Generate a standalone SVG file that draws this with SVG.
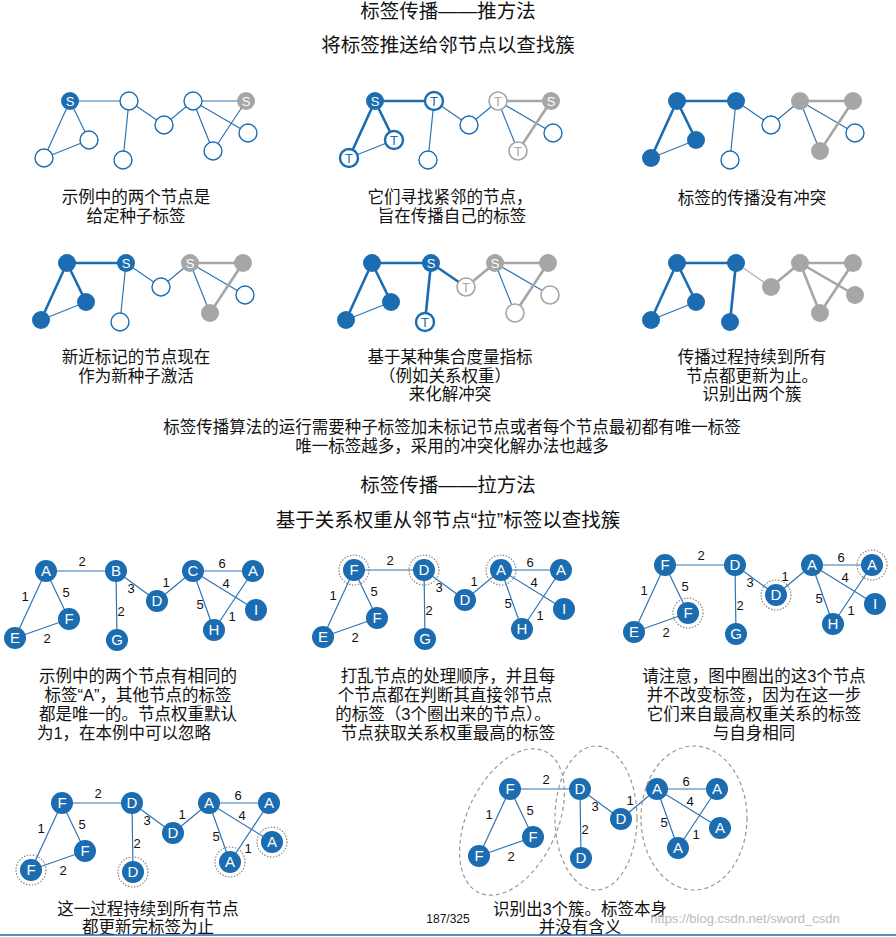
<svg xmlns="http://www.w3.org/2000/svg" xmlns:xlink="http://www.w3.org/1999/xlink" width="896" height="937" viewBox="0 0 896 937">
<style>
text{font-family:"Liberation Sans","Noto Sans CJK SC",sans-serif;fill:#111;text-anchor:middle}
.t{font-size:19.5px}.c{font-size:16.5px}
.e{stroke:#2e75b6;stroke-width:1.2;fill:none}
.eb{stroke:#1b6cb0;stroke-width:2.6;fill:none}
.eg{stroke:#a6a6a6;stroke-width:2.6;fill:none}
.eg1{stroke:#b0b0b0;stroke-width:1.2;fill:none}
.o{fill:#fff;stroke:#1b6cb0;stroke-width:1.4}
.ob{fill:#fff;stroke:#1b6cb0;stroke-width:2.4}
.og{fill:#fff;stroke:#a6a6a6;stroke-width:1.6}
.f{fill:#1b6cb0}.g{fill:#a6a6a6}
.nl{font-size:13px;fill:#fff}.nlb{font-size:13px;fill:#1b6cb0}.nlg{font-size:13px;fill:#a6a6a6}
.B{fill:#1b6cb0}.bl{font-size:15px;fill:#fff}
.w{font-size:13px}
.dot{fill:none;stroke:#888;stroke-width:1.2;stroke-dasharray:1.5 1.5}
.ell{fill:none;stroke:#999;stroke-width:1.2;stroke-dasharray:4 3}
</style>
<rect width="896" height="937" fill="#fff"/>
<text class="t" x="448" y="18">标签传播——推方法</text>
<text class="t" x="448" y="52">将标签推送给邻节点以查找簇</text>

<g id="push1">
<g class="connectors">
<path class="e" d="M70 101H129M129 101L164 125M164 125L193 101M193 101H246M193 101L248 133M193 101L213 151M246 101L213 151M129 101L123 160M70 101L89 140M70 101L44 158M89 140L44 158"/>
</g>
<circle class="f" cx="70" cy="101" r="9"/><text class="nl" x="70" y="106">S</text>
<circle class="o" cx="129" cy="101" r="9"/><circle class="o" cx="164" cy="125" r="9"/><circle class="o" cx="193" cy="101" r="9"/>
<circle class="g" cx="246" cy="101" r="9"/><text class="nl" x="246" y="106">S</text>
<circle class="o" cx="248" cy="133" r="9"/><circle class="o" cx="213" cy="151" r="9"/><circle class="o" cx="123" cy="160" r="9"/><circle class="o" cx="89" cy="140" r="9"/><circle class="o" cx="44" cy="158" r="9"/>
</g>
<g id="push2" transform="translate(305,0)">
<g class="connectors">
<path class="e" d="M129 101L164 125M164 125L193 101M193 101L248 133M193 101L213 151M129 101L123 160M89 140L44 158"/>
<path class="eb" d="M70 101H129M70 101L89 140M70 101L44 158"/>
<path class="eg" d="M193 101H246M246 101L213 151"/>
</g>
<circle class="f" cx="70" cy="101" r="9"/><text class="nl" x="70" y="106">S</text>
<circle class="ob" cx="129" cy="101" r="9"/><text class="nlb" x="129" y="106">T</text>
<circle class="o" cx="164" cy="125" r="9"/>
<circle class="og" cx="193" cy="101" r="9"/><text class="nlg" x="193" y="106">T</text>
<circle class="g" cx="246" cy="101" r="9"/><text class="nl" x="246" y="106">S</text>
<circle class="o" cx="248" cy="133" r="9"/>
<circle class="og" cx="213" cy="151" r="9"/><text class="nlg" x="213" y="156">T</text>
<circle class="o" cx="123" cy="160" r="9"/>
<circle class="ob" cx="89" cy="140" r="9"/><text class="nlb" x="89" y="145">T</text>
<circle class="ob" cx="44" cy="158" r="9"/><text class="nlb" x="44" y="163">T</text>
</g>
<g id="push3" transform="translate(607,0)">
<g class="connectors">
<path class="e" d="M129 101L164 125M164 125L193 101M193 101L248 133M193 101L213 151M129 101L123 160M89 140L44 158"/>
<path class="eb" d="M70 101H129M70 101L89 140M70 101L44 158"/>
<path class="eg" d="M193 101H246M246 101L213 151"/>
</g>
<circle class="f" cx="70" cy="101" r="9"/><circle class="f" cx="129" cy="101" r="9"/><circle class="o" cx="164" cy="125" r="9"/>
<circle class="g" cx="193" cy="101" r="9"/><circle class="g" cx="246" cy="101" r="9"/><circle class="o" cx="248" cy="133" r="9"/>
<circle class="g" cx="213" cy="151" r="9"/><circle class="o" cx="123" cy="160" r="9"/><circle class="f" cx="89" cy="140" r="9"/><circle class="f" cx="44" cy="158" r="9"/>
</g>
<g id="push4" transform="translate(-3,162)">
<g class="connectors">
<path class="e" d="M129 101L164 125M164 125L193 101M193 101L248 133M193 101L213 151M129 101L123 160M89 140L44 158"/>
<path class="eb" d="M70 101H129M70 101L89 140M70 101L44 158"/>
<path class="eg" d="M193 101H246M246 101L213 151"/>
</g>
<circle class="f" cx="70" cy="101" r="9"/><circle class="f" cx="129" cy="101" r="9"/><text class="nl" x="129" y="106">S</text><circle class="o" cx="164" cy="125" r="9"/>
<circle class="g" cx="193" cy="101" r="9"/><text class="nl" x="193" y="106">S</text><circle class="g" cx="246" cy="101" r="9"/><circle class="o" cx="248" cy="133" r="9"/>
<circle class="g" cx="213" cy="151" r="9"/><circle class="o" cx="123" cy="160" r="9"/><circle class="f" cx="89" cy="140" r="9"/><circle class="f" cx="44" cy="158" r="9"/>
</g>
<g id="push5" transform="translate(302,162)">
<g class="connectors">
<path class="e" d="M193 101L248 133M193 101L213 151M89 140L44 158"/>
<path class="eb" d="M70 101H129M70 101L89 140M70 101L44 158M129 101L164 125M129 101L123 160"/>
<path class="eg" d="M193 101H246M246 101L213 151M164 125L193 101"/>
</g>
<circle class="f" cx="70" cy="101" r="9"/><circle class="f" cx="129" cy="101" r="9"/><text class="nl" x="129" y="106">S</text>
<circle class="og" cx="164" cy="125" r="9"/><text class="nlg" x="164" y="130">T</text>
<circle class="g" cx="193" cy="101" r="9"/><text class="nl" x="193" y="106">S</text><circle class="g" cx="246" cy="101" r="9"/><circle class="og" cx="248" cy="133" r="9"/>
<circle class="og" cx="213" cy="151" r="9"/><circle class="ob" cx="123" cy="160" r="9"/><text class="nlb" x="123" y="165">T</text>
<circle class="f" cx="89" cy="140" r="9"/><circle class="f" cx="44" cy="158" r="9"/>
</g>
<g id="push6" transform="translate(607,162)">
<g class="connectors">
<path class="e" d="M89 140L44 158"/>
<path class="eb" d="M70 101H129M70 101L89 140M70 101L44 158M129 101L123 160"/>
<path class="eg" d="M193 101H246M246 101L213 151M164 125L193 101M193 101L213 151M193 101L248 133"/>
<path class="eg1" d="M129 101L164 125"/>
</g>
<circle class="f" cx="70" cy="101" r="9"/><circle class="f" cx="129" cy="101" r="9"/><circle class="g" cx="164" cy="125" r="9"/>
<circle class="g" cx="193" cy="101" r="9"/><circle class="g" cx="246" cy="101" r="9"/><circle class="g" cx="248" cy="133" r="9"/>
<circle class="g" cx="213" cy="151" r="9"/><circle class="f" cx="123" cy="160" r="9"/><circle class="f" cx="89" cy="140" r="9"/><circle class="f" cx="44" cy="158" r="9"/>
</g>

<g>
<text class="c" x="136" y="203">示例中的两个节点是</text><text class="c" x="136" y="222">给定种子标签</text>
<text class="c" x="450" y="203">它们寻找紧邻的节点，</text><text class="c" x="452" y="222">旨在传播自己的标签</text>
<text class="c" x="752" y="204">标签的传播没有冲突</text>
<text class="c" x="136" y="363">新近标记的节点现在</text><text class="c" x="136" y="382">作为新种子激活</text>
<text class="c" x="450" y="363">基于某种集合度量指标</text><text class="c" x="445" y="382">（例如关系权重）</text><text class="c" x="450" y="400">来化解冲突</text>
<text class="c" x="752" y="363">传播过程持续到所有</text><text class="c" x="752" y="382">节点都更新为止。</text><text class="c" x="752" y="400">识别出两个簇</text>
<text class="c" x="452" y="433">标签传播算法的运行需要种子标签加未标记节点或者每个节点最初都有唯一标签</text>
<text class="c" x="452" y="452">唯一标签越多，采用的冲突化解办法也越多</text>
</g>

<text class="t" x="448" y="492">标签传播——拉方法</text>
<text class="t" x="448" y="527">基于关系权重从邻节点“拉”标签以查找簇</text>

<defs>
<g id="wg">
<path class="e" d="M46 571H116M46 571L15 638M46 571L69 619M15 638L69 619M116 571L157 601M116 571L117 640M157 601L193 571M193 571H253M193 571L256 610M193 571L214 630M214 630L253 571"/>
<text class="w" x="82" y="566">2</text><text class="w" x="25" y="601">1</text><text class="w" x="66" y="597">5</text><text class="w" x="47" y="643">2</text>
<text class="w" x="131" y="593">3</text><text class="w" x="121" y="616">2</text><text class="w" x="166" y="587">1</text>
<text class="w" x="222" y="568">6</text><text class="w" x="226" y="588">4</text><text class="w" x="200" y="609">5</text><text class="w" x="232" y="621">1</text>
</g>
</defs>
<g id="pull1">
<use xlink:href="#wg"/>
<g><circle class="B" cx="46" cy="571" r="11"/><circle class="B" cx="116" cy="571" r="11"/><circle class="B" cx="157" cy="601" r="11"/><circle class="B" cx="193" cy="571" r="11"/><circle class="B" cx="253" cy="571" r="11"/><circle class="B" cx="256" cy="610" r="11"/><circle class="B" cx="214" cy="630" r="11"/><circle class="B" cx="117" cy="640" r="11"/><circle class="B" cx="69" cy="619" r="11"/><circle class="B" cx="15" cy="638" r="11"/>
<text class="bl" x="46" y="576">A</text><text class="bl" x="116" y="576">B</text><text class="bl" x="157" y="606">D</text><text class="bl" x="193" y="576">C</text><text class="bl" x="253" y="576">A</text><text class="bl" x="256" y="615">I</text><text class="bl" x="214" y="635">H</text><text class="bl" x="117" y="645">G</text><text class="bl" x="69" y="624">F</text><text class="bl" x="15" y="643">E</text></g>
</g>
<g id="pull2" transform="translate(308,-1)">
<use xlink:href="#wg"/>
<circle class="dot" cx="46" cy="571" r="15"/><circle class="dot" cx="116" cy="571" r="15"/><circle class="dot" cx="193" cy="571" r="15"/>
<g><circle class="B" cx="46" cy="571" r="11"/><circle class="B" cx="116" cy="571" r="11"/><circle class="B" cx="157" cy="601" r="11"/><circle class="B" cx="193" cy="571" r="11"/><circle class="B" cx="253" cy="571" r="11"/><circle class="B" cx="256" cy="610" r="11"/><circle class="B" cx="214" cy="630" r="11"/><circle class="B" cx="117" cy="640" r="11"/><circle class="B" cx="69" cy="619" r="11"/><circle class="B" cx="15" cy="638" r="11"/>
<text class="bl" x="46" y="576">F</text><text class="bl" x="116" y="576">D</text><text class="bl" x="157" y="606">D</text><text class="bl" x="193" y="576">A</text><text class="bl" x="253" y="576">A</text><text class="bl" x="256" y="615">I</text><text class="bl" x="214" y="635">H</text><text class="bl" x="117" y="645">G</text><text class="bl" x="69" y="624">F</text><text class="bl" x="15" y="643">E</text></g>
</g>
<g id="pull3" transform="translate(619,-6)">
<use xlink:href="#wg"/>
<circle class="dot" cx="157" cy="601" r="15"/><circle class="dot" cx="69" cy="619" r="15"/><circle class="dot" cx="253" cy="571" r="15"/>
<g><circle class="B" cx="46" cy="571" r="11"/><circle class="B" cx="116" cy="571" r="11"/><circle class="B" cx="157" cy="601" r="11"/><circle class="B" cx="193" cy="571" r="11"/><circle class="B" cx="253" cy="571" r="11"/><circle class="B" cx="256" cy="610" r="11"/><circle class="B" cx="214" cy="630" r="11"/><circle class="B" cx="117" cy="640" r="11"/><circle class="B" cx="69" cy="619" r="11"/><circle class="B" cx="15" cy="638" r="11"/>
<text class="bl" x="46" y="576">F</text><text class="bl" x="116" y="576">D</text><text class="bl" x="157" y="606">D</text><text class="bl" x="193" y="576">A</text><text class="bl" x="253" y="576">A</text><text class="bl" x="256" y="615">I</text><text class="bl" x="214" y="635">H</text><text class="bl" x="117" y="645">G</text><text class="bl" x="69" y="624">F</text><text class="bl" x="15" y="643">E</text></g>
</g>
<g id="pull4" transform="translate(16,232)">
<use xlink:href="#wg"/>
<circle class="dot" cx="256" cy="610" r="15"/><circle class="dot" cx="214" cy="630" r="15"/><circle class="dot" cx="117" cy="640" r="15"/><circle class="dot" cx="15" cy="638" r="15"/>
<g><circle class="B" cx="46" cy="571" r="11"/><circle class="B" cx="116" cy="571" r="11"/><circle class="B" cx="157" cy="601" r="11"/><circle class="B" cx="193" cy="571" r="11"/><circle class="B" cx="253" cy="571" r="11"/><circle class="B" cx="256" cy="610" r="11"/><circle class="B" cx="214" cy="630" r="11"/><circle class="B" cx="117" cy="640" r="11"/><circle class="B" cx="69" cy="619" r="11"/><circle class="B" cx="15" cy="638" r="11"/>
<text class="bl" x="46" y="576">F</text><text class="bl" x="116" y="576">D</text><text class="bl" x="157" y="606">D</text><text class="bl" x="193" y="576">A</text><text class="bl" x="253" y="576">A</text><text class="bl" x="256" y="615">A</text><text class="bl" x="214" y="635">A</text><text class="bl" x="117" y="645">D</text><text class="bl" x="69" y="624">F</text><text class="bl" x="15" y="643">F</text></g>
</g>
<g id="pull5" transform="translate(464,218)">
<use xlink:href="#wg"/>
<g><circle class="B" cx="46" cy="571" r="11"/><circle class="B" cx="116" cy="571" r="11"/><circle class="B" cx="157" cy="601" r="11"/><circle class="B" cx="193" cy="571" r="11"/><circle class="B" cx="253" cy="571" r="11"/><circle class="B" cx="256" cy="610" r="11"/><circle class="B" cx="214" cy="630" r="11"/><circle class="B" cx="117" cy="640" r="11"/><circle class="B" cx="69" cy="619" r="11"/><circle class="B" cx="15" cy="638" r="11"/>
<text class="bl" x="46" y="576">F</text><text class="bl" x="116" y="576">D</text><text class="bl" x="157" y="606">D</text><text class="bl" x="193" y="576">A</text><text class="bl" x="253" y="576">A</text><text class="bl" x="256" y="615">A</text><text class="bl" x="214" y="635">A</text><text class="bl" x="117" y="645">D</text><text class="bl" x="69" y="624">F</text><text class="bl" x="15" y="643">F</text></g>
</g>
<g id="clusters">
<ellipse class="ell" cx="512" cy="822" rx="45" ry="78" transform="rotate(25 512 822)"/>
<ellipse class="ell" cx="596" cy="818" rx="41" ry="72"/>
<ellipse class="ell" cx="694" cy="818" rx="53" ry="72"/>
</g>

<text class="c" x="138" y="682">示例中的两个节点有相同的</text><text class="c" x="138" y="701">标签“A”，其他节点的标签</text><text class="c" x="138" y="720">都是唯一的。节点权重默认</text><text class="c" x="124" y="739">为1，在本例中可以忽略</text>
<text class="c" x="448" y="682">打乱节点的处理顺序，并且每</text><text class="c" x="445" y="701">个节点都在判断其直接邻节点</text><text class="c" x="443" y="720">的标签（3个圈出来的节点）。</text><text class="c" x="448" y="739">节点获取关系权重最高的标签</text>
<text class="c" x="754" y="682">请注意，图中圈出的这3个节点</text><text class="c" x="754" y="701">并不改变标签，因为在这一步</text><text class="c" x="754" y="720">它们来自最高权重关系的标签</text><text class="c" x="754" y="739">与自身相同</text>
<text class="c" x="148" y="915">这一过程持续到所有节点</text><text class="c" x="148" y="933">都更新完标签为止</text>
<text class="c" x="580" y="915">识别出3个簇。标签本身</text><text class="c" x="580" y="933">并没有含义</text>
<text x="448" y="923" style="font-size:12px">187/325</text>
<text x="745" y="923" style="font-size:13px;fill:#bbb">https://blog.csdn.net/sword_csdn</text>
<line x1="0" y1="935" x2="896" y2="935" stroke="#1b6cb0" stroke-width="1.5"/>
</svg>
